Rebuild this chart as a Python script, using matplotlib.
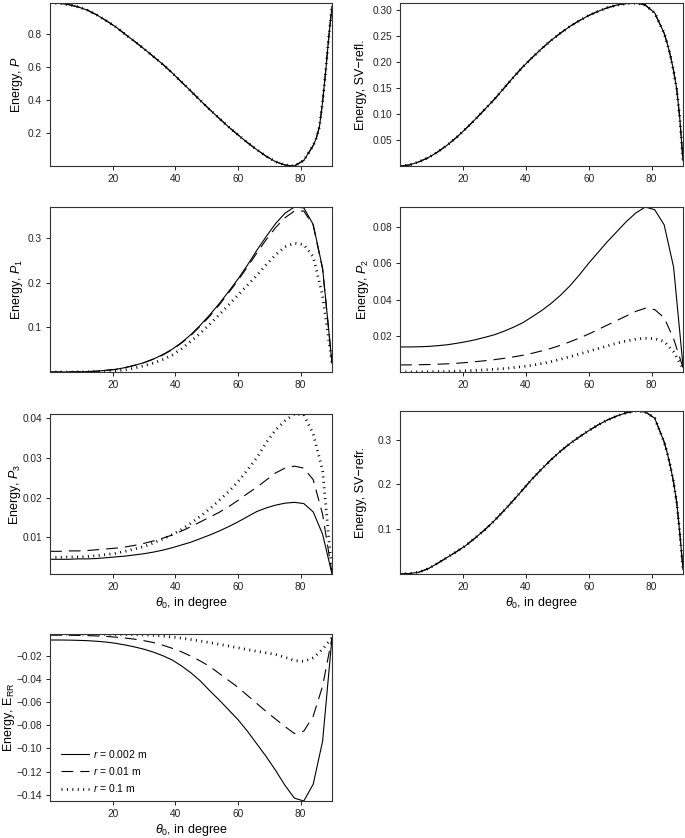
import matplotlib
matplotlib.use("Agg")
import matplotlib.pyplot as plt
from matplotlib.ticker import FixedLocator, FuncFormatter

plt.rcParams['font.family'] = ['Liberation Sans', 'DejaVu Sans']
plt.rcParams['mathtext.fontset'] = 'custom'
plt.rcParams['mathtext.rm'] = 'Liberation Sans'
plt.rcParams['mathtext.it'] = 'Liberation Sans:italic'
plt.rcParams['lines.scale_dashes'] = False

# incidence angle grids (degrees)
theta_coarse = [0, 3, 6, 9, 12, 15, 18, 21, 24, 27, 30, 33, 36, 39, 42, 45,
                48, 51, 54, 57, 60, 63, 66, 69, 72, 75, 78, 81, 84, 87, 90]
theta_fine = [0, 3, 6, 9, 12, 15, 18, 21, 24, 27, 30, 33, 36, 39, 42, 45,
              48, 51, 54, 57, 60, 63, 66, 69, 72, 75, 78, 81, 84,
              85, 86, 87, 88, 89, 90]

# panels where the three radii give the same curve
energy_p = [0.990, 0.988, 0.980, 0.966, 0.946, 0.917, 0.882, 0.845, 0.800, 0.757,
            0.712, 0.665, 0.618, 0.566, 0.510, 0.455, 0.398, 0.343, 0.290, 0.238,
            0.190, 0.143, 0.100, 0.060, 0.027, 0.007, 0.001, 0.035, 0.125,
            0.170, 0.240, 0.390, 0.580, 0.790, 0.970]
energy_sv_refl = [0.000, 0.002, 0.008, 0.016, 0.027, 0.040, 0.055, 0.072, 0.090, 0.109,
                  0.128, 0.149, 0.170, 0.190, 0.208, 0.225, 0.241, 0.255, 0.268, 0.279,
                  0.289, 0.297, 0.304, 0.309, 0.312, 0.313, 0.309, 0.294, 0.255,
                  0.235, 0.212, 0.183, 0.148, 0.090, 0.010]
energy_sv_refr = [0.000, 0.001, 0.004, 0.012, 0.024, 0.037, 0.050, 0.064, 0.081, 0.099,
                  0.119, 0.141, 0.164, 0.188, 0.212, 0.234, 0.255, 0.274, 0.291, 0.306,
                  0.320, 0.333, 0.344, 0.353, 0.360, 0.364, 0.362, 0.348, 0.295,
                  0.270, 0.240, 0.205, 0.160, 0.090, 0.010]

# P1 for r = 0.002, 0.01, 0.1 m
p1_r0002 = [0.0001, 0.0001, 0.0002, 0.0005, 0.001, 0.002, 0.004, 0.006, 0.010, 0.015,
            0.021, 0.029, 0.039, 0.051, 0.066, 0.084, 0.105, 0.128, 0.153, 0.180,
            0.208, 0.239, 0.272, 0.303, 0.332, 0.355, 0.369, 0.367, 0.330, 0.232, 0.020]
p1_r001 = [0.0001, 0.0001, 0.0002, 0.0005, 0.001, 0.002, 0.004, 0.006, 0.010, 0.015,
           0.021, 0.029, 0.038, 0.050, 0.065, 0.082, 0.103, 0.125, 0.150, 0.177,
           0.205, 0.235, 0.266, 0.296, 0.323, 0.345, 0.360, 0.360, 0.328, 0.230, 0.020]
p1_r01 = [0.0001, 0.0001, 0.0001, 0.0002, 0.0005, 0.001, 0.002, 0.003, 0.005, 0.009,
          0.014, 0.020, 0.028, 0.038, 0.052, 0.069, 0.087, 0.107, 0.128, 0.150,
          0.172, 0.194, 0.216, 0.240, 0.262, 0.280, 0.288, 0.285, 0.258, 0.170, 0.020]

# P2
p2_r0002 = [0.0139, 0.0139, 0.0140, 0.0142, 0.0146, 0.0151, 0.0159, 0.0168, 0.0179, 0.0192,
            0.0206, 0.0225, 0.0247, 0.0272, 0.0305, 0.0339, 0.0378, 0.0423, 0.0475, 0.0535,
            0.0600, 0.0660, 0.0720, 0.0775, 0.0830, 0.0877, 0.0910, 0.0895, 0.0812, 0.0580, 0.0035]
p2_r001 = [0.0040, 0.0040, 0.0041, 0.0042, 0.0044, 0.0046, 0.0049, 0.0053, 0.0058, 0.0063,
           0.0069, 0.0076, 0.0084, 0.0093, 0.0104, 0.0117, 0.0131, 0.0148, 0.0167, 0.0188,
           0.0210, 0.0235, 0.0260, 0.0285, 0.0310, 0.0335, 0.0352, 0.0345, 0.0300, 0.0185, 0.0025]
p2_r01 = [0.0001, 0.0001, 0.0002, 0.0002, 0.0003, 0.0004, 0.0006, 0.0008, 0.0010, 0.0013,
          0.0016, 0.0020, 0.0025, 0.0031, 0.0038, 0.0047, 0.0058, 0.0071, 0.0085, 0.0100,
          0.0115, 0.0130, 0.0145, 0.0160, 0.0172, 0.0182, 0.0187, 0.0185, 0.0170, 0.0112, 0.0020]

# P3
p3_r0002 = [0.0045, 0.0045, 0.0045, 0.0046, 0.0046, 0.0047, 0.0049, 0.0051, 0.0053, 0.0056,
            0.0059, 0.0063, 0.0068, 0.0074, 0.0081, 0.0088, 0.0097, 0.0106, 0.0116, 0.0127,
            0.0139, 0.0152, 0.0165, 0.0174, 0.0181, 0.0186, 0.0188, 0.0185, 0.0164, 0.0108, 0.0008]
p3_r001 = [0.0065, 0.0065, 0.0066, 0.0066, 0.0067, 0.0069, 0.0071, 0.0073, 0.0076, 0.0080,
           0.0085, 0.0091, 0.0098, 0.0106, 0.0116, 0.0127, 0.0139, 0.0151, 0.0163, 0.0177,
           0.0193, 0.0210, 0.0226, 0.0244, 0.0262, 0.0274, 0.0279, 0.0274, 0.0245, 0.0158, 0.0010]
p3_r01 = [0.0050, 0.0050, 0.0051, 0.0051, 0.0052, 0.0054, 0.0057, 0.0060, 0.0065, 0.0071,
          0.0077, 0.0086, 0.0096, 0.0107, 0.0120, 0.0136, 0.0153, 0.0172, 0.0193, 0.0215,
          0.0240, 0.0269, 0.0300, 0.0338, 0.0370, 0.0393, 0.0410, 0.0408, 0.0360, 0.0268, 0.0010]

# E_RR
err_r0002 = [-0.0060, -0.0060, -0.0061, -0.0063, -0.0066, -0.0071, -0.0078, -0.0089, -0.0103, -0.0120,
             -0.0140, -0.0165, -0.0196, -0.0233, -0.0285, -0.0345, -0.0415, -0.0500, -0.0580, -0.0665,
             -0.0750, -0.0850, -0.0960, -0.1070, -0.1190, -0.1320, -0.1430, -0.1455, -0.1310, -0.0937, -0.0040]
err_r001 = [-0.0018, -0.0018, -0.0019, -0.0020, -0.0022, -0.0025, -0.0029, -0.0035, -0.0043, -0.0053,
            -0.0066, -0.0082, -0.0105, -0.0132, -0.0163, -0.0200, -0.0242, -0.0290, -0.0350, -0.0410,
            -0.0470, -0.0540, -0.0610, -0.0680, -0.0745, -0.0810, -0.0870, -0.0850, -0.0720, -0.0460, -0.0040]
err_r01 = [-0.0008, -0.0008, -0.0008, -0.0009, -0.0009, -0.0010, -0.0011, -0.0012, -0.0013, -0.0014,
           -0.0016, -0.0020, -0.0026, -0.0034, -0.0044, -0.0056, -0.0069, -0.0083, -0.0097, -0.0112,
           -0.0127, -0.0143, -0.0158, -0.0172, -0.0185, -0.0210, -0.0238, -0.0245, -0.0215, -0.0140, -0.0040]

radius_labels = [r'$r$ = 0.002 m', r'$r$ = 0.01 m', r'$r$ = 0.1 m']
x_ticks = [20, 40, 60, 80]

line_styles = [dict(linestyle='-', linewidth=0.8),
               dict(linestyle=(0, (8.5, 5)), linewidth=0.8),
               dict(linestyle=(0, (0.7, 3.2)), linewidth=2.0)]

W, H = 685, 838
fig = plt.figure(figsize=(W / 100, H / 100), dpi=100)


def add_panel(box, x, series, ylabel, yticks, fmt, label_px,
              xlabel=False, legend=False):
    x0, y0, x1, y1 = box
    ax = fig.add_axes([x0 / W, 1 - y1 / H, (x1 - x0) / W, (y1 - y0) / H])
    for y, style, lab in zip(series, line_styles, radius_labels):
        ax.plot(x, y, color='black', label=lab, **style)
    ax.set_xlim(min(x), max(x))
    lo = min(min(s) for s in series)
    hi = max(max(s) for s in series)
    ax.set_ylim(lo, hi)
    ax.xaxis.set_major_locator(FixedLocator(x_ticks))
    ax.yaxis.set_major_locator(FixedLocator(yticks))
    ax.yaxis.set_major_formatter(FuncFormatter(lambda v, p: (fmt % v).replace('-', '\u2212')))
    ax.tick_params(direction='out', length=3.2, width=0.7, pad=2.5,
                   labelsize=7.3, colors='#222222')
    for sp in ax.spines.values():
        sp.set_linewidth(0.8)
        sp.set_color('#333333')
    ax.set_ylabel(ylabel, fontsize=9)
    # left edge of the rotated label, in figure pixels
    ax.yaxis.set_label_coords((label_px - x0) / (x1 - x0), 0.5)
    ax.yaxis.label.set_verticalalignment('top')
    if xlabel:
        ax.set_xlabel(r'$\theta_0$, in degree', fontsize=9, labelpad=2)
    if legend:
        ax.legend(loc='lower left', bbox_to_anchor=(0.04, 0.04), frameon=False,
                  fontsize=7.5, handlelength=2.7, handletextpad=0.3,
                  labelspacing=0.5, borderpad=0, borderaxespad=0)
    return ax


add_panel((50, 3, 332, 166), theta_fine, [energy_p] * 3,
          r'Energy, $P$', [0.2, 0.4, 0.6, 0.8], '%.1f', 9)
add_panel((400, 3, 683, 166), theta_fine, [energy_sv_refl] * 3,
          'Energy, SV\u2212refl.', [0.05, 0.10, 0.15, 0.20, 0.25, 0.30], '%.2f', 355)
add_panel((50, 207, 332, 372), theta_coarse, [p1_r0002, p1_r001, p1_r01],
          r'Energy, $P_1$', [0.1, 0.2, 0.3], '%.1f', 9)
add_panel((400, 207, 683, 372), theta_coarse, [p2_r0002, p2_r001, p2_r01],
          r'Energy, $P_2$', [0.02, 0.04, 0.06, 0.08], '%.2f', 355)
add_panel((50, 414, 332, 574), theta_coarse, [p3_r0002, p3_r001, p3_r01],
          r'Energy, $P_3$', [0.01, 0.02, 0.03, 0.04], '%.2f', 7, xlabel=True)
add_panel((400, 411, 683, 574), theta_fine, [energy_sv_refr] * 3,
          'Energy, SV\u2212refr.', [0.1, 0.2, 0.3], '%.1f', 355, xlabel=True)
add_panel((50, 634, 332, 801), theta_coarse, [err_r0002, err_r001, err_r01],
          r'Energy, E$_\mathrm{RR}$',
          [-0.02, -0.04, -0.06, -0.08, -0.10, -0.12, -0.14], '%.2f', 1,
          xlabel=True, legend=True)

fig.savefig('out.png', dpi=100)
